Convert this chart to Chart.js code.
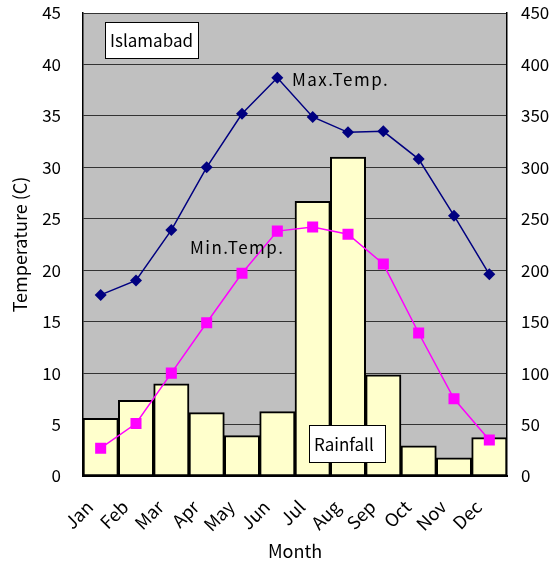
<!DOCTYPE html>
<html>
<head>
<meta charset="utf-8">
<script src="https://cdn.jsdelivr.net/npm/chart.js@4"></script>
<style>
  html, body { margin: 0; padding: 0; background: #ffffff; }
  #wrap { width: 560px; height: 565px; }
</style>
</head>
<body>
<div id="wrap"><canvas id="c" width="560" height="565"></canvas></div>
<script>
// Islamabad climate: monthly temperatures (C) and rainfall (mm)
const months = ['Jan','Feb','Mar','Apr','May','Jun','Jul','Aug','Sep','Oct','Nov','Dec'];
const maxTemp = [17.6, 19.0, 23.9, 30.0, 35.2, 38.7, 34.9, 33.4, 33.5, 30.8, 25.3, 19.6];
const minTemp = [2.7, 5.1, 10.0, 14.9, 19.7, 23.8, 24.2, 23.5, 20.6, 13.9, 7.5, 3.5];
const rainfall = [56.1, 73.5, 89.7, 61.6, 39.2, 62.6, 267.0, 309.9, 98.4, 29.3, 17.7, 37.3];
const tempTicks = [0, 5, 10, 15, 20, 25, 30, 35, 40, 45];
const rainTicks = [0, 50, 100, 150, 200, 250, 300, 350, 400, 450];

const FONT = '"Noto Sans CJK JP", "Liberation Sans", sans-serif';

// grey plot background behind the grid
const plotBackground = {
  id: 'plotBackground',
  beforeDraw(chart) {
    const { ctx, chartArea: a } = chart;
    ctx.save();
    ctx.fillStyle = '#c0c0c0';
    ctx.fillRect(a.left, a.top, a.right - a.left, a.bottom - a.top);
    ctx.restore();
  }
};

// caption boxes and series names inside the plot
const captions = {
  id: 'captions',
  afterDatasetsDraw(chart) {
    const { ctx } = chart;
    ctx.save();
    ctx.font = '17px ' + FONT;
    ctx.textBaseline = 'middle';
    ctx.textAlign = 'left';
    const box = (text, x, y, w, h) => {
      ctx.fillStyle = '#ffffff';
      ctx.fillRect(x, y, w, h);
      ctx.strokeStyle = '#000000';
      ctx.lineWidth = 1;
      ctx.strokeRect(x + 0.5, y + 0.5, w, h);
      ctx.fillStyle = '#000000';
      ctx.fillText(text, x + 5, y + h / 2 + 1);
    };
    box('Islamabad', 105, 22, 93, 36);
    box('Rainfall', 309, 425, 76, 37);
    ctx.fillStyle = '#000000';
    ctx.letterSpacing = '1.5px';
    ctx.fillText('Max.Temp.', 292, 80);
    ctx.fillText('Min.Temp.', 190, 248);
    ctx.restore();
  }
};

// keep the plot area fixed: no extra room reserved for half tick labels
function pinVertical(s, w) {
  s.width = w;
  s.paddingTop = 0;
  s.paddingBottom = 0;
}

new Chart(document.getElementById('c'), {
  data: {
    labels: months,
    datasets: [
      {
        type: 'line',
        label: 'Max.Temp.',
        data: maxTemp,
        yAxisID: 'y',
        borderColor: '#000080',
        backgroundColor: '#000080',
        borderWidth: 1.5,
        pointStyle: 'rectRot',
        pointRadius: 6,
        pointBorderWidth: 0,
        tension: 0,
        order: 1
      },
      {
        type: 'line',
        label: 'Min.Temp.',
        data: minTemp,
        yAxisID: 'y',
        borderColor: '#ff00ff',
        backgroundColor: '#ff00ff',
        borderWidth: 1.5,
        pointStyle: 'rect',
        pointRadius: 7.8,
        pointBorderWidth: 0,
        tension: 0,
        order: 1
      },
      {
        type: 'bar',
        label: 'Rainfall',
        data: rainfall,
        yAxisID: 'y2',
        backgroundColor: '#ffffcc',
        borderColor: '#000000',
        borderWidth: 2,
        borderSkipped: false,
        barPercentage: 1,
        categoryPercentage: 1,
        order: 2
      }
    ]
  },
  options: {
    responsive: false,
    animation: false,
    layout: { padding: { top: 13, left: 0, right: 0, bottom: 0 } },
    plugins: {
      legend: { display: false },
      tooltip: { enabled: false }
    },
    scales: {
      x: {
        type: 'category',
        offset: true,
        grid: { display: false, drawTicks: false },
        border: { display: true, color: '#000000', width: 2 },
        ticks: {
          color: '#000000',
          font: { family: FONT, size: 18 },
          minRotation: 45,
          maxRotation: 45,
          padding: 20,
          labelOffset: -11,
          autoSkip: false
        },
        title: {
          display: true,
          text: 'Month',
          color: '#000000',
          font: { family: FONT, size: 18 },
          padding: { top: 4, bottom: 3 }
        },
        afterFit(s) { s.height = 89; s.paddingLeft = 0; s.paddingRight = 0; }
      },
      y: {
        position: 'left',
        min: 0,
        max: 45,
        afterBuildTicks(s) { s.ticks = tempTicks.map(v => ({ value: v })); },
        grid: { color: '#333333', lineWidth: 1, drawTicks: false },
        border: { display: true, color: '#000000', width: 1.5 },
        ticks: {
          color: '#000000',
          font: { family: FONT, size: 17 },
          padding: 22
        },
        title: {
          display: true,
          text: 'Temperature (C)',
          color: '#000000',
          font: { family: FONT, size: 18 },
          padding: { top: 9, bottom: 4 }
        },
        afterFit(s) { pinVertical(s, 83); }
      },
      y2: {
        position: 'right',
        min: 0,
        max: 450,
        afterBuildTicks(s) { s.ticks = rainTicks.map(v => ({ value: v })); },
        grid: { display: false, drawTicks: false },
        border: { display: true, color: '#000000', width: 1.5 },
        ticks: {
          color: '#000000',
          font: { family: FONT, size: 17 },
          padding: 14
        },
        afterFit(s) { pinVertical(s, 53); }
      }
    }
  },
  plugins: [plotBackground, captions]
});
</script>
</body>
</html>
